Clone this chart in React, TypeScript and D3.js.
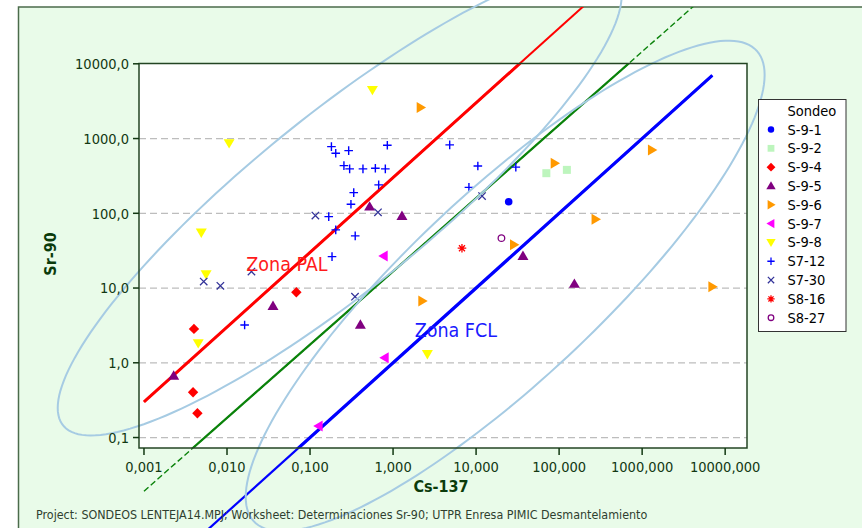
import React, { useEffect, useRef } from 'react';
import * as d3 from 'd3';

const xTicks = [0.001, 0.01, 0.1, 1, 10, 100, 1000, 10000];
const yTicks = [0.1, 1, 10, 100, 1000, 10000];

const sondeos = ['S-9-1', 'S-9-2', 'S-9-4', 'S-9-5', 'S-9-6', 'S-9-7', 'S-9-8', 'S7-12', 'S7-30', 'S8-16', 'S8-27'];

// [Cs-137, Sr-90]
const s9_1 = [[24.7, 143]];
const s9_2 = [[70.2, 344], [124, 381]];
const s9_4 = [[0.0684, 8.79], [0.004, 2.84], [0.0039, 0.404], [0.0044, 0.211]];
const s9_5 = [[0.522, 123], [1.28, 92.3], [36.7, 26.9], [152.7, 11.4], [0.0358, 5.76], [0.404, 3.24], [0.00228, 0.673]];
const s9_6 = [[2.15, 2594], [88.4, 468], [1313, 705], [275, 83.4], [28.6, 37.8], [2.25, 6.73], [7010, 10.4]];
const s9_7 = [[0.771, 26.9], [0.793, 1.17], [0.127, 0.143]];
const s9_8 = [[0.564, 4477], [0.0106, 867], [0.0049, 55.2], [0.0056, 15.3], [0.0045, 1.83], [2.59, 1.31]];
const s7_12 = [
  [0.181, 780], [0.204, 637], [0.292, 690], [0.853, 815], [0.256, 434], [0.3, 393], [0.434, 393],
  [0.612, 401], [0.807, 393], [0.671, 240], [0.336, 189], [0.311, 132], [0.168, 90.3], [0.204, 60],
  [0.35, 49.8], [0.184, 26.3], [0.0163, 3.21], [4.81, 822], [10.5, 430], [8.2, 222], [30.1, 414],
];
const s7_30 = [[0.116, 93.1], [0.658, 103], [11.8, 170], [0.00524, 12.2], [0.00832, 10.7], [0.0197, 16.6], [0.348, 7.67]];
const s8_16 = [[6.76, 34.1]];
const s8_27 = [[20.2, 46.5]];

const seriesData = [s9_1, s9_2, s9_4, s9_5, s9_6, s9_7, s9_8, s7_12, s7_30, s8_16, s8_27];

// reference lines Sr = k * Cs^n
const lineCoef = [300, 16.7, 1];
const lineExp = [1, 0.98, 1];
const lineCsRange = [0.001, 7000];

// zone ellipses in log space: centre, two conjugate half axes (decades)
const ellipseCenter = [[0.2275, 141.9], [22.4, 10.67]];
const ellipseU = [[-3.396, -2.756], [3.125, 2.823]];
const ellipseV = [[0, -1.472], [0, -1.672]];

const zoneLabels = ['Zona PAL', 'Zona FCL'];
const zoneLabelCs = [0.0171, 1.82];
const zoneLabelSr = [17.1, 2.22];

const footer = 'Project: SONDEOS LENTEJA14.MPJ; Worksheet: Determinaciones Sr-90; UTPR Enresa PIMIC Desmantelamiento';

const shapes = ['circle', 'square', 'diamond', 'up', 'right', 'left', 'down', 'plus', 'times', 'asterisk', 'ring'];
const colors = ['#0000ff', '#bdf5bd', '#ff0000', '#800080', '#ff9900', '#ff00ff', '#ffff00', '#0000ff', '#333399', '#ff0000', '#800080'];

const FONT = "'DejaVu Sans Condensed', 'DejaVu Sans', sans-serif";

function marker(shape: string) {
  const p = d3.path();
  const r = 5.5;
  if (shape === 'circle') p.arc(0, 0, 3.8, 0, 2 * Math.PI);
  else if (shape === 'ring') p.arc(0, 0, 3.3, 0, 2 * Math.PI);
  else if (shape === 'square') p.rect(-4, -4, 8, 8);
  else if (shape === 'diamond') {
    p.moveTo(0, -5.2); p.lineTo(5.2, 0); p.lineTo(0, 5.2); p.lineTo(-5.2, 0); p.closePath();
  } else if (shape === 'up') {
    p.moveTo(0, -5.4); p.lineTo(r, 4); p.lineTo(-r, 4); p.closePath();
  } else if (shape === 'down') {
    p.moveTo(0, 5.4); p.lineTo(r, -4); p.lineTo(-r, -4); p.closePath();
  } else if (shape === 'right') {
    p.moveTo(5.4, 0); p.lineTo(-4, -r); p.lineTo(-4, r); p.closePath();
  } else if (shape === 'left') {
    p.moveTo(-5.4, 0); p.lineTo(4, -r); p.lineTo(4, r); p.closePath();
  } else if (shape === 'plus') {
    p.moveTo(-4.3, 0); p.lineTo(4.3, 0); p.moveTo(0, -4.3); p.lineTo(0, 4.3);
  } else if (shape === 'times') {
    p.moveTo(-3.7, -3.7); p.lineTo(3.7, 3.7); p.moveTo(-3.7, 3.7); p.lineTo(3.7, -3.7);
  } else if (shape === 'asterisk') {
    p.moveTo(-4.3, 0); p.lineTo(4.3, 0); p.moveTo(0, -4.3); p.lineTo(0, 4.3);
    p.moveTo(-3, -3); p.lineTo(3, 3); p.moveTo(-3, 3); p.lineTo(3, -3);
  }
  return p.toString();
}

const stroked = (s: string) => ['plus', 'times', 'asterisk', 'ring'].includes(s);

export default function App() {
  const ref = useRef<SVGSVGElement>(null);

  useEffect(() => {
    const svg = d3.select(ref.current);
    svg.selectAll('*').remove();

    const left = 139, right = 747, top = 63.5, bottom = 448;

    const x = d3.scaleLog().domain([10 ** -3.06, 10 ** 4.263]).range([left, right]);
    const y = d3.scaleLog().domain([10 ** -1.14, 10 ** 4.004]).range([bottom, top]);

    const defs = svg.append('defs');
    defs.append('clipPath').attr('id', 'frameClip')
      .append('rect').attr('x', 18).attr('y', 7).attr('width', 900).attr('height', 600);
    defs.append('clipPath').attr('id', 'plotClip')
      .append('rect').attr('x', left).attr('y', top).attr('width', right - left).attr('height', bottom - top);

    // outer figure
    svg.append('rect').attr('x', 18.5).attr('y', 7).attr('width', 900).attr('height', 600)
      .attr('fill', '#e9fbe9').attr('stroke', '#4b6b4b').attr('stroke-width', 1.5);

    svg.append('rect').attr('x', left).attr('y', top).attr('width', right - left).attr('height', bottom - top)
      .attr('fill', '#ffffff');

    // grid
    svg.append('g').selectAll('line').data(yTicks.slice(0, -1)).enter().append('line')
      .attr('x1', left).attr('x2', right)
      .attr('y1', d => y(d)).attr('y2', d => y(d))
      .attr('stroke', '#bdbdbd').attr('stroke-width', 1.2).attr('stroke-dasharray', '7,4');

    // reference lines
    const lineColor = ['#ff0000', '#0a820a', '#0000ff'];
    const innerW = [3, 2.2, 3.2];
    const outerW = [2, 1.4, 2.2];
    const outerDash = ['none', '6,3', 'none'];
    const linePts = (i: number) => lineCsRange.map(c => [x(c), y(lineCoef[i] * Math.pow(c, lineExp[i]))] as [number, number]);
    const lineGen = d3.line();

    lineCoef.forEach((_, i) => {
      svg.append('path').attr('clip-path', 'url(#frameClip)')
        .attr('d', lineGen(linePts(i))).attr('fill', 'none')
        .attr('stroke', lineColor[i]).attr('stroke-width', outerW[i]).attr('stroke-dasharray', outerDash[i]);
    });
    lineCoef.forEach((_, i) => {
      svg.append('path').attr('clip-path', 'url(#plotClip)')
        .attr('d', lineGen(linePts(i))).attr('fill', 'none')
        .attr('stroke', lineColor[i]).attr('stroke-width', innerW[i]);
    });

    // points
    seriesData.forEach((pts, i) => {
      const s = shapes[i];
      svg.append('g').selectAll('path').data(pts).enter().append('path')
        .attr('transform', d => `translate(${x(d[0])},${y(d[1])})`)
        .attr('d', marker(s))
        .attr('fill', stroked(s) ? 'none' : colors[i])
        .attr('stroke', stroked(s) ? colors[i] : 'none')
        .attr('stroke-width', s === 'plus' ? 1.4 : 1.3);
    });

    // ellipses
    const ts = d3.range(0, 361, 2).map(d => (d * Math.PI) / 180);
    ellipseCenter.forEach((c, i) => {
      const pts = ts.map(t => {
        const lx = Math.log10(c[0]) + ellipseU[i][0] * Math.cos(t) + ellipseV[i][0] * Math.sin(t);
        const ly = Math.log10(c[1]) + ellipseU[i][1] * Math.cos(t) + ellipseV[i][1] * Math.sin(t);
        return [x(10 ** lx), y(10 ** ly)] as [number, number];
      });
      svg.append('path').attr('d', d3.line().curve(d3.curveLinearClosed)(pts))
        .attr('fill', 'none').attr('stroke', '#a6cbe3').attr('stroke-width', 2);
    });

    // plot frame + axes
    svg.append('rect').attr('x', left).attr('y', top).attr('width', right - left).attr('height', bottom - top)
      .attr('fill', 'none').attr('stroke', '#234423').attr('stroke-width', 1.5);

    const axisColor = '#123812';
    const yAxis = svg.append('g');
    yAxis.selectAll('line').data(yTicks).enter().append('line')
      .attr('x1', left - 6).attr('x2', left).attr('y1', d => y(d)).attr('y2', d => y(d))
      .attr('stroke', axisColor).attr('stroke-width', 1.5);
    yAxis.selectAll('text').data(yTicks).enter().append('text')
      .attr('x', left - 10).attr('y', d => y(d)).attr('dy', '0.36em')
      .attr('text-anchor', 'end').attr('font-family', FONT).attr('font-size', 14.5).attr('fill', axisColor)
      .text(d => d3.format('.1f')(d).replace('.', ','));

    const xAxis = svg.append('g');
    xAxis.selectAll('line').data(xTicks).enter().append('line')
      .attr('x1', d => x(d)).attr('x2', d => x(d)).attr('y1', bottom).attr('y2', bottom + 7)
      .attr('stroke', axisColor).attr('stroke-width', 1.5);
    xAxis.selectAll('text').data(xTicks).enter().append('text')
      .attr('x', d => x(d)).attr('y', bottom + 24)
      .attr('text-anchor', 'middle').attr('font-family', FONT).attr('font-size', 14.5).attr('fill', axisColor)
      .text(d => d3.format('.3f')(d).replace('.', ','));

    svg.append('text').attr('x', 441).attr('y', 492).attr('text-anchor', 'middle')
      .attr('font-family', FONT).attr('font-weight', 'bold').attr('font-size', 16).attr('fill', '#0b3b0b')
      .text('Cs-137');
    svg.append('text').attr('transform', 'translate(56,254) rotate(-90)').attr('text-anchor', 'middle')
      .attr('font-family', FONT).attr('font-weight', 'bold').attr('font-size', 16).attr('fill', '#0b3b0b')
      .text('Sr-90');

    // zone labels
    const zoneColor = ['#ff1a1a', '#1a1aff'];
    zoneLabels.forEach((z, i) => {
      svg.append('text').attr('x', x(zoneLabelCs[i])).attr('y', y(zoneLabelSr[i]))
        .attr('font-family', FONT).attr('font-size', 19.5).attr('fill', zoneColor[i]).text(z);
    });

    // legend
    const lg = svg.append('g');
    lg.append('rect').attr('x', 758.5).attr('y', 99.5).attr('width', 87.5).attr('height', 232)
      .attr('fill', '#ffffff').attr('stroke', '#333333').attr('stroke-width', 1);
    lg.append('text').attr('x', 787.5).attr('y', 116).attr('font-family', FONT).attr('font-size', 14.5)
      .attr('fill', '#000').text('Sondeo');
    sondeos.forEach((name, i) => {
      const cy = 129.5 + i * 18.82;
      const s = shapes[i];
      lg.append('path').attr('transform', `translate(771,${cy}) scale(0.85)`).attr('d', marker(s))
        .attr('fill', stroked(s) ? 'none' : colors[i])
        .attr('stroke', stroked(s) ? colors[i] : 'none').attr('stroke-width', 1.5);
      lg.append('text').attr('x', 787.5).attr('y', cy + 5).attr('font-family', FONT).attr('font-size', 14.5)
        .attr('fill', '#000').text(name);
    });

    svg.append('text').attr('x', 36).attr('y', 519).attr('font-family', FONT).attr('font-size', 12.4)
      .attr('fill', '#2f3f2f').text(footer);
  }, []);

  return (
    <div style={{ position: 'absolute', left: 0, top: 0 }}>
      <svg ref={ref} width={862} height={528} style={{ display: 'block', background: '#fff' }} />
    </div>
  );
}
